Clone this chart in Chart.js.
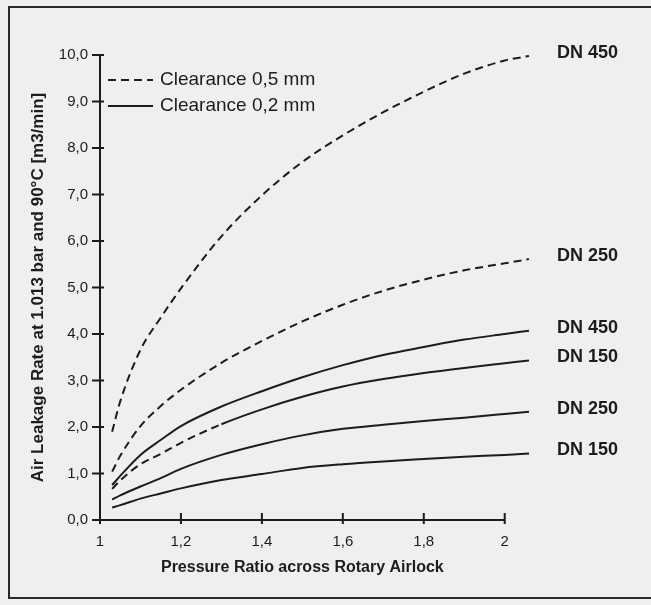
<!DOCTYPE html>
<html>
<head>
<meta charset="utf-8">
<script src="https://cdn.jsdelivr.net/npm/chart.js@4.4.0/dist/chart.umd.min.js"></script>
<style>
  html, body { margin: 0; padding: 0; background: #efefed; }
</style>
</head>
<body>
<canvas id="leakChart" width="651" height="605"></canvas>
<script>
const pressureRatio = [1.03, 1.05, 1.1, 1.15, 1.2, 1.3, 1.4, 1.5, 1.6, 1.7, 1.8, 1.9, 2.0, 2.06];

// clearance 0,5 mm (dashed)
const dn450Clear05 = [1.90, 2.55, 3.66, 4.35, 4.98, 6.10, 6.98, 7.70, 8.27, 8.77, 9.21, 9.60, 9.88, 9.98];
const dn250Clear05 = [1.04, 1.38, 2.02, 2.45, 2.80, 3.38, 3.85, 4.27, 4.63, 4.93, 5.17, 5.37, 5.52, 5.61];
const dn150Clear05 = [0.67, 0.85, 1.20, 1.42, 1.66, 2.06, 2.38, 2.65, 2.87, 3.03, 3.16, 3.27, 3.37, 3.43];

// clearance 0,2 mm (solid)
const dn450Clear02 = [0.75, 0.95, 1.40, 1.72, 2.02, 2.44, 2.77, 3.07, 3.33, 3.55, 3.72, 3.88, 4.00, 4.07];
const dn250Clear02 = [0.44, 0.53, 0.72, 0.90, 1.10, 1.40, 1.63, 1.82, 1.96, 2.05, 2.13, 2.20, 2.28, 2.33];
const dn150Clear02 = [0.27, 0.32, 0.46, 0.57, 0.68, 0.86, 0.99, 1.12, 1.20, 1.26, 1.31, 1.36, 1.40, 1.43];

const yTicks = [0, 1, 2, 3, 4, 5, 6, 7, 8, 9, 10];
const xTicks = [1, 1.2, 1.4, 1.6, 1.8, 2];
const legendLabels = ['Clearance 0,5 mm', 'Clearance 0,2 mm'];
const xTitle = 'Pressure Ratio across Rotary Airlock';

const ink = '#1c1c1c';
const fontFam = 'Arial, "Liberation Sans", sans-serif';
const dash = [8, 5];

function toPoints(vals) {
  return vals.map((v, i) => ({ x: pressureRatio[i], y: v }));
}

function makeSet(name, vals, dashed, dashUntil) {
  const ds = {
    label: name,
    data: toPoints(vals),
    borderColor: ink,
    borderWidth: 2,
    pointRadius: 0,
    tension: 0.4,
    cubicInterpolationMode: 'monotone',
    fill: false,
    clip: false,
    borderDash: dashed ? dash : []
  };
  // the DN 150 dashed curve only shows its dashes near the start in the scan
  if (dashUntil) {
    ds.segment = { borderDash: ctx => ctx.p0.parsed.x < dashUntil ? dash : [] };
  }
  return ds;
}

const datasets = [
  makeSet('DN 450', dn450Clear05, true),
  makeSet('DN 250', dn250Clear05, true),
  makeSet('DN 450', dn450Clear02, false),
  makeSet('DN 150', dn150Clear05, false, 1.28),
  makeSet('DN 250', dn250Clear02, false),
  makeSet('DN 150', dn150Clear02, false)
];

function commaNum(v, dec) {
  return v.toFixed(dec).replace('.', ',');
}

// frame, x axis line + title, tick marks, legend and curve labels
const decorations = {
  id: 'decorations',
  beforeDraw(chart) {
    const c = chart.ctx;
    c.save();
    c.fillStyle = '#efefed';
    c.fillRect(0, 0, chart.width, chart.height);
    c.strokeStyle = '#2a2a2a';
    c.lineWidth = 2;
    c.beginPath();
    c.moveTo(chart.width, 7);
    c.lineTo(9, 7);
    c.lineTo(9, 598);
    c.lineTo(chart.width, 598);
    c.stroke();
    c.restore();
  },
  afterDraw(chart) {
    const c = chart.ctx;
    const xs = chart.scales.x, ys = chart.scales.y;
    const x1 = xs.getPixelForValue(xTicks[0]);
    const x2 = xs.getPixelForValue(xTicks[xTicks.length - 1]);
    c.save();
    c.strokeStyle = ink;
    c.lineWidth = 2;
    c.beginPath();
    c.moveTo(xs.left - 3, ys.bottom);
    c.lineTo(x2, ys.bottom);
    xTicks.forEach(t => {
      const px = xs.getPixelForValue(t);
      c.moveTo(px, ys.bottom - 7);
      c.lineTo(px, ys.bottom + 4);
    });
    yTicks.forEach(t => {
      const py = ys.getPixelForValue(t);
      c.moveTo(xs.left - 8, py);
      c.lineTo(xs.left + 4, py);
    });
    c.stroke();

    c.fillStyle = ink;
    c.textBaseline = 'middle';

    // x axis title, centred under the 1..2 axis line
    c.font = 'bold 16px ' + fontFam;
    c.textAlign = 'center';
    c.fillText(xTitle, (x1 + x2) / 2, 568);

    // legend
    c.font = '19px ' + fontFam;
    c.textAlign = 'left';
    c.setLineDash(dash);
    c.beginPath();
    c.moveTo(108, 80);
    c.lineTo(153, 80);
    c.stroke();
    c.setLineDash([]);
    c.beginPath();
    c.moveTo(108, 106);
    c.lineTo(153, 106);
    c.stroke();
    c.fillText(legendLabels[0], 160, 80);
    c.fillText(legendLabels[1], 160, 106);

    // DN labels at the end of each curve
    c.font = 'bold 18px ' + fontFam;
    chart.data.datasets.forEach(ds => {
      const last = ds.data[ds.data.length - 1];
      const py = ys.getPixelForValue(last.y);
      c.fillText(ds.label, 557, py - 3);
    });
    c.restore();
  }
};

new Chart(document.getElementById('leakChart'), {
  type: 'line',
  data: { datasets: datasets },
  options: {
    responsive: false,
    animation: false,
    layout: { padding: { top: 55, right: 122, left: 0, bottom: 0 } },
    plugins: { legend: { display: false }, tooltip: { enabled: false } },
    scales: {
      x: {
        type: 'linear',
        min: 1,
        max: 2.06,
        afterFit: s => { s.height = 85; },
        afterBuildTicks: s => { s.ticks = xTicks.map(v => ({ value: v })); },
        grid: { display: false },
        border: { display: false },
        ticks: {
          padding: 5,
          color: ink,
          font: { family: fontFam, size: 15 },
          maxRotation: 0,
          callback: v => (Math.abs(v - Math.round(v)) < 1e-9 ? String(Math.round(v)) : commaNum(v, 1))
        },
        title: { display: false }
      },
      y: {
        min: 0,
        max: 10,
        afterFit: s => { s.width = 100; },
        afterBuildTicks: s => { s.ticks = yTicks.map(v => ({ value: v })); },
        grid: { display: false },
        border: { display: true, color: ink, width: 2 },
        ticks: {
          padding: 4,
          color: ink,
          font: { family: fontFam, size: 15 },
          callback: v => commaNum(v, 1)
        },
        title: {
          display: true,
          text: 'Air Leakage Rate at 1.013 bar and 90°C [m3/min]',
          color: ink,
          font: { family: fontFam, size: 17, weight: 'bold' },
          padding: { top: 28, bottom: 0 }
        }
      }
    }
  },
  plugins: [decorations]
});
</script>
</body>
</html>
